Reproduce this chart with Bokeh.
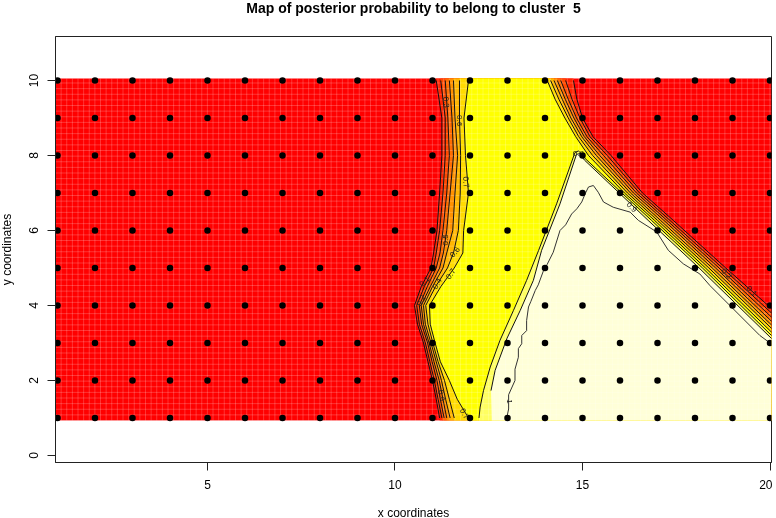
from bokeh.plotting import figure
from bokeh.embed import file_html
from bokeh.resources import INLINE
from bokeh.models import FixedTicker
from bokeh.core.properties import value
import numpy as np

title = "Map of posterior probability to belong to cluster \u00a05"
x_label = "x coordinates"
y_label = "y coordinates"
x_ticks = [5, 10, 15, 20]
y_ticks = [0, 2, 4, 6, 8, 10]
x_limits = [0.947, 20.04]
y_limits = [-0.187, 11.173]
raster_x = [0.947, 20.04]
raster_y = [0.933, 10.053]
raster_step = 0.15
sites_x = list(range(1, 21))
sites_y = list(range(1, 11))

levels = [0.1, 0.2, 0.3, 0.4, 0.5, 0.6, 0.7]
band_colors = ["#FF2400", "#FF4900", "#FF6D00", "#FF9200", "#FFB600", "#FFDB00", "#FFFF00", "#FFFF60", "#FFFFD8"]
base_color = "#FF0000"

left_y = [10, 9, 8, 7, 6, 5.4, 5, 4.5, 4, 3.5, 3, 2.5, 2, 1.5, 1]
left_x = [
    [11.10, 11.25, 11.25, 11.19, 11.12, 11.03, 10.96, 10.70, 10.52, 10.60, 10.76, 10.88, 11.00, 11.10, 11.19],
    [11.22, 11.34, 11.34, 11.28, 11.19, 11.10, 11.03, 10.78, 10.58, 10.65, 10.81, 10.93, 11.05, 11.15, 11.25],
    [11.34, 11.41, 11.45, 11.38, 11.28, 11.20, 11.10, 10.86, 10.65, 10.71, 10.87, 10.99, 11.12, 11.21, 11.31],
    [11.45, 11.52, 11.56, 11.47, 11.38, 11.29, 11.19, 10.94, 10.70, 10.76, 10.91, 11.04, 11.18, 11.28, 11.38],
    [11.56, 11.60, 11.67, 11.60, 11.54, 11.38, 11.28, 11.00, 10.76, 10.81, 10.96, 11.10, 11.24, 11.35, 11.47],
    [11.72, 11.72, 11.75, 11.74, 11.69, 11.56, 11.40, 11.08, 10.82, 10.88, 11.01, 11.15, 11.32, 11.45, 11.58],
    [11.96, 11.84, 11.88, 11.96, 11.83, 11.81, 11.58, 11.22, 10.92, 10.94, 11.07, 11.21, 11.45, 11.66, 11.96],
]

right_y = [10, 9.5, 9, 8.5, 8, 7, 6.27, 5]
right_x = [
    [14.76, 14.85, 15.00, 15.28, 15.76, 16.60, 17.42, 18.82],
    [14.55, 14.72, 14.93, 15.20, 15.66, 16.52, 17.33, 18.73],
    [14.42, 14.62, 14.84, 15.12, 15.56, 16.44, 17.25, 18.64],
    [14.33, 14.54, 14.77, 15.05, 15.46, 16.36, 17.17, 18.55],
    [14.24, 14.46, 14.69, 14.98, 15.37, 16.28, 17.08, 18.46],
    [14.15, 14.37, 14.62, 14.90, 15.27, 16.20, 17.00, 18.37],
    [14.06, 14.27, 14.53, 14.82, 15.16, 16.12, 16.92, 18.28],
]
right_end_x = 20.05
right_end_y = [3.91, 3.79, 3.68, 3.57, 3.47, 3.38, 3.28]

c8_x = [12.24, 12.27, 12.36, 12.54, 12.80, 13.16, 13.51, 13.83, 14.31, 14.80, 14.89, 14.98, 15.07, 16.05, 16.84, 18.20, 20.05]
c8_y = [1.00, 1.29, 1.73, 2.36, 3.07, 3.87, 4.67, 5.47, 6.71, 8.08, 8.12, 8.04, 7.92, 7.00, 6.27, 5.00, 3.19]
c9_x = [12.58, 12.56, 12.67, 12.98, 13.34, 13.69, 13.91, 14.40, 14.84, 14.93, 15.05, 15.98, 16.75, 18.11, 20.05]
c9_y = [1.00, 1.73, 2.27, 3.11, 3.87, 4.67, 5.47, 6.71, 8.03, 8.05, 7.88, 7.00, 6.27, 5.00, 3.11]
c9_line_from = 1
c1_x = [12.98, 13.03, 13.03, 13.20, 13.20, 13.29, 13.29, 13.38, 13.38, 13.51, 13.51, 13.56, 13.62, 13.74, 13.82, 13.96, 14.06, 14.22,
        14.40, 14.55, 14.71, 14.85, 14.98, 15.08, 15.16, 15.29, 15.42, 15.56, 15.82, 16.27, 16.49, 16.98, 17.29, 17.69, 18.13, 18.40, 18.93, 19.73, 20.00]
c1_y = [1.00, 1.24, 1.62, 2.00, 2.30, 2.62, 2.85, 2.98, 3.20, 3.33, 3.60, 3.96, 4.10, 4.40, 4.55, 4.93, 5.10, 5.42,
        6.00, 6.15, 6.44, 6.58, 6.76, 7.00, 7.16, 7.20, 7.02, 6.76, 6.62, 6.49, 6.27, 5.96, 5.47, 5.11, 4.84, 4.53, 4.00, 3.20, 3.00]

label_text = ["0.3", "0.6", "0.7", "0.5", "0.6", "0.7", "0.1", "0.2", "0.4", "1", "0.7", "0.4", "0.1", "0.2", "0.9", "0.8"]
label_x = [11.36, 11.72, 11.89, 11.34, 11.60, 11.49, 10.79, 10.70, 11.13, 13.05, 11.85, 11.25, 19.51, 18.84, 16.31, 14.89]
label_y = [9.42, 8.93, 7.29, 5.75, 5.42, 4.84, 4.64, 4.13, 4.58, 1.44, 1.11, 1.60, 4.38, 4.85, 6.62, 8.05]
label_angle = [-85, -90, -85, 90, 50, 55, 45, 60, 60, -90, -60, -70, -45, -45, -45, 0]

# canvas overhangs the window; the frame stays at 55..771 x 36..462
offset_left, offset_top = -5, -20
border_left, border_right, border_top, border_bottom = 60, 1, 56, 64
frame_w, frame_h = 716, 426
p = figure(width=border_left + frame_w + border_right, height=border_top + frame_h + border_bottom,
           output_backend="svg", toolbar_location=None,
           x_range=tuple(x_limits), y_range=tuple(y_limits),
           min_border_left=border_left, min_border_right=border_right,
           min_border_top=border_top, min_border_bottom=border_bottom, title=title)
p.styles = {"position": "fixed", "left": f"{offset_left}px", "top": f"{offset_top}px"}
p.grid.visible = False
p.outline_line_color = "#222222"
p.outline_line_width = 1

p.title.align = "center"
p.title.vertical_align = "top"
p.title.standoff = 38
p.title.text_font = "Liberation Sans"
p.title.text_font_size = "14px"
p.title.text_font_style = "bold"
p.title.text_color = "black"

for ax, ticks, lab in ((p.xaxis[0], x_ticks, x_label), (p.yaxis[0], y_ticks, y_label)):
    ax.ticker = FixedTicker(ticks=ticks)
    ax.axis_label = lab
    ax.axis_label_text_font = "Liberation Sans"
    ax.axis_label_text_font_size = "12px"
    ax.axis_label_text_font_style = "normal"
    ax.axis_label_text_color = "black"
    ax.major_label_text_font = "Liberation Sans"
    ax.major_label_text_font_size = "12px"
    ax.major_label_text_color = "black"
    ax.major_tick_out = 8
    ax.major_tick_in = 0
    ax.minor_tick_out = 0
    ax.minor_tick_in = 0
    ax.axis_line_color = "#222222"
    ax.major_tick_line_color = "#222222"
p.yaxis[0].major_label_orientation = "vertical"
p.xaxis[0].major_label_standoff = 9
p.yaxis[0].major_label_standoff = 9
p.xaxis[0].axis_label_standoff = 14
p.yaxis[0].axis_label_standoff = 13

# painted bands: each level covers everything above it
ymin, ymax = raster_y
xmin, xmax = raster_x
polys_x = [[xmin, xmax, xmax, xmin]]
polys_y = [[ymin, ymin, ymax, ymax]]
colors = [base_color]
for i in range(len(levels)):
    lx = left_x[i]
    rx = right_x[i] + [right_end_x]
    ry = right_y + [right_end_y[i]]
    polys_x.append([lx[0]] + lx + [lx[-1], xmax, xmax] + rx[::-1] + [rx[0]])
    polys_y.append([ymax] + left_y + [ymin, ymin, ry[-1]] + ry[::-1] + [ymax])
    colors.append(band_colors[i])
for cx, cy, col in ((c8_x, c8_y, band_colors[7]), (c9_x, c9_y, band_colors[8])):
    polys_x.append([cx[0]] + cx + [xmax])
    polys_y.append([ymin] + cy + [ymin])
    colors.append(col)
p.patches(polys_x, polys_y, fill_color=colors, line_color=None)

# raster cell seams
gx = list(np.arange(xmin, xmax, raster_step))
gy = list(np.arange(ymin, ymax, raster_step))
p.multi_line([[g, g] for g in gx] + [[xmin, xmax] for g in gy],
             [[ymin, ymax] for g in gx] + [[g, g] for g in gy],
             line_color="white", line_alpha=0.2, line_width=1)

# contour lines
lines_x = [lx for lx in left_x] + [right_x[i] + [right_end_x] for i in range(len(levels))] + [c8_x, c9_x[c9_line_from:]]
lines_y = [left_y for _ in left_x] + [right_y + [right_end_y[i]] for i in range(len(levels))] + [c8_y, c9_y[c9_line_from:]]
p.multi_line(lines_x, lines_y, line_color="#111111", line_width=1)
p.line(c1_x, c1_y, line_color="#333333", line_width=1)

p.text(label_x, label_y, text=label_text, angle=[np.deg2rad(a) for a in label_angle],
       text_font=value("Liberation Sans"), text_font_size="8px", text_color="#222222",
       text_align="center", text_baseline="middle")

xx, yy = np.meshgrid(sites_x, sites_y)
p.scatter(xx.ravel(), yy.ravel(), size=6.5, fill_color="black", line_color="black", line_width=0)

open("out.html", "w").write(file_html(p, INLINE))
